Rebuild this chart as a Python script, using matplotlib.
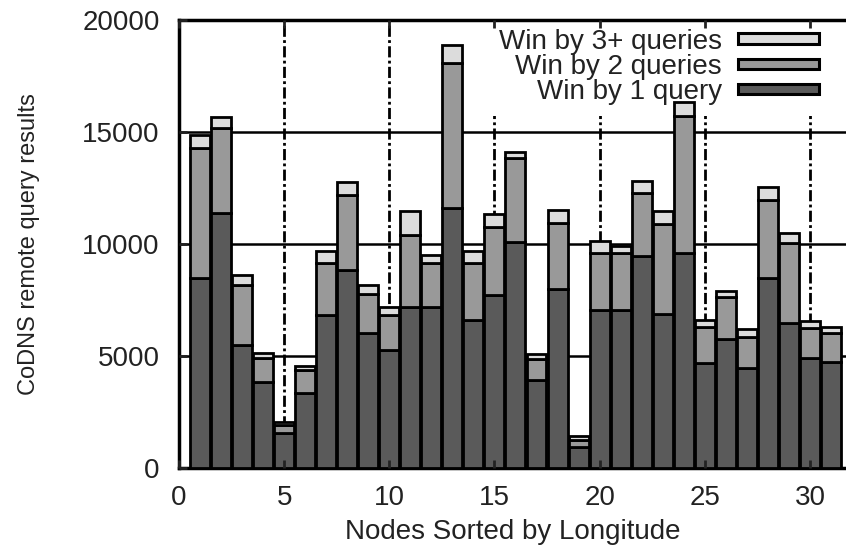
import matplotlib
matplotlib.use("Agg")
import matplotlib.pyplot as plt
from matplotlib.patches import Patch
import numpy as np

plt.rcParams['font.family'] = ['Liberation Sans', 'DejaVu Sans']

nodes = list(range(1, 32))
win1 = [8470, 11370, 5490, 3850, 1580, 3330, 6830, 8840, 6010, 5270, 7170, 7170,
        11590, 6610, 7720, 10070, 3930, 7980, 920, 7050, 7050, 9460, 6880, 9580,
        4700, 5740, 4450, 8470, 6460, 4900, 4750]
win2 = [5800, 3790, 2680, 1050, 340, 1050, 2310, 3350, 1760, 1560, 3230, 1970,
        6480, 2530, 3050, 3750, 920, 2970, 330, 2530, 2560, 2800, 4010, 6130,
        1610, 1910, 1410, 3490, 3570, 1340, 1260]
win3 = [600, 490, 450, 250, 150, 170, 560, 590, 400, 340, 1090, 370,
        810, 560, 550, 300, 240, 570, 180, 550, 320, 550, 580, 640,
        300, 270, 330, 570, 480, 340, 270]

labels = ["Win by 3+ queries", "Win by 2 queries", "Win by 1 query"]
colors = ["#dcdcdc", "#999999", "#5a5a5a"]
yticks = [0, 5000, 10000, 15000, 20000]
xticks = [0, 5, 10, 15, 20, 25, 30]

fig = plt.figure(figsize=(8.46, 5.47), dpi=100)
ax = fig.add_axes([179 / 846, 79 / 547, 1 - 179 / 846, 448 / 547])

w1 = np.array(win1)
w2 = np.array(win2)
w3 = np.array(win3)
kw = dict(width=0.95, edgecolor="black", linewidth=2.0, zorder=3)
ax.bar(nodes, w1, color=colors[2], **kw)
ax.bar(nodes, w2, bottom=w1, color=colors[1], **kw)
ax.bar(nodes, w3, bottom=w1 + w2, color=colors[0], **kw)

for yv in yticks[1:-1]:
    ax.axhline(yv, color="black", lw=1.8, zorder=1)
for xv in xticks[1:]:
    ax.axvline(xv, color="black", lw=2.0, ls=(0, (4, 1.2, 1, 1.2)), zorder=1)

ax.set_xlim(0, 667 / 21.03)
ax.set_ylim(0, 20000)
ax.set_xticks(xticks)
ax.set_yticks(yticks)
ax.tick_params(direction="in", length=6, width=2, top=True, right=False,
               labelsize=20, colors="#222222", pad=12)
ax.tick_params(axis="y", pad=14)
for s in ["left", "bottom", "top"]:
    ax.spines[s].set_linewidth(2.5)
ax.spines["right"].set_visible(False)
ax.xaxis.set_zorder(4)
ax.yaxis.set_zorder(4)

ax.set_xlabel("Nodes Sorted by Longitude", fontsize=20, color="#222222", labelpad=6)
ax.set_ylabel("CoDNS remote query results", fontsize=17, color="#222222", labelpad=30)

handles = [Patch(facecolor=c, edgecolor="black", linewidth=2.2) for c in colors]
leg = ax.legend(handles, labels, loc="upper right", bbox_to_anchor=(0.976, 1.0056),
                borderaxespad=0, borderpad=0.4, markerfirst=False, frameon=True,
                fontsize=20, handlelength=2.9, handleheight=0.18, handletextpad=0.6,
                labelspacing=-0.03, framealpha=1)
leg.get_frame().set_facecolor("white")
leg.get_frame().set_edgecolor("none")
leg.set_zorder(2)
for t in leg.get_texts():
    t.set_color("#222222")
    t.set_ha("right")

fig.savefig("out.png", dpi=100)
